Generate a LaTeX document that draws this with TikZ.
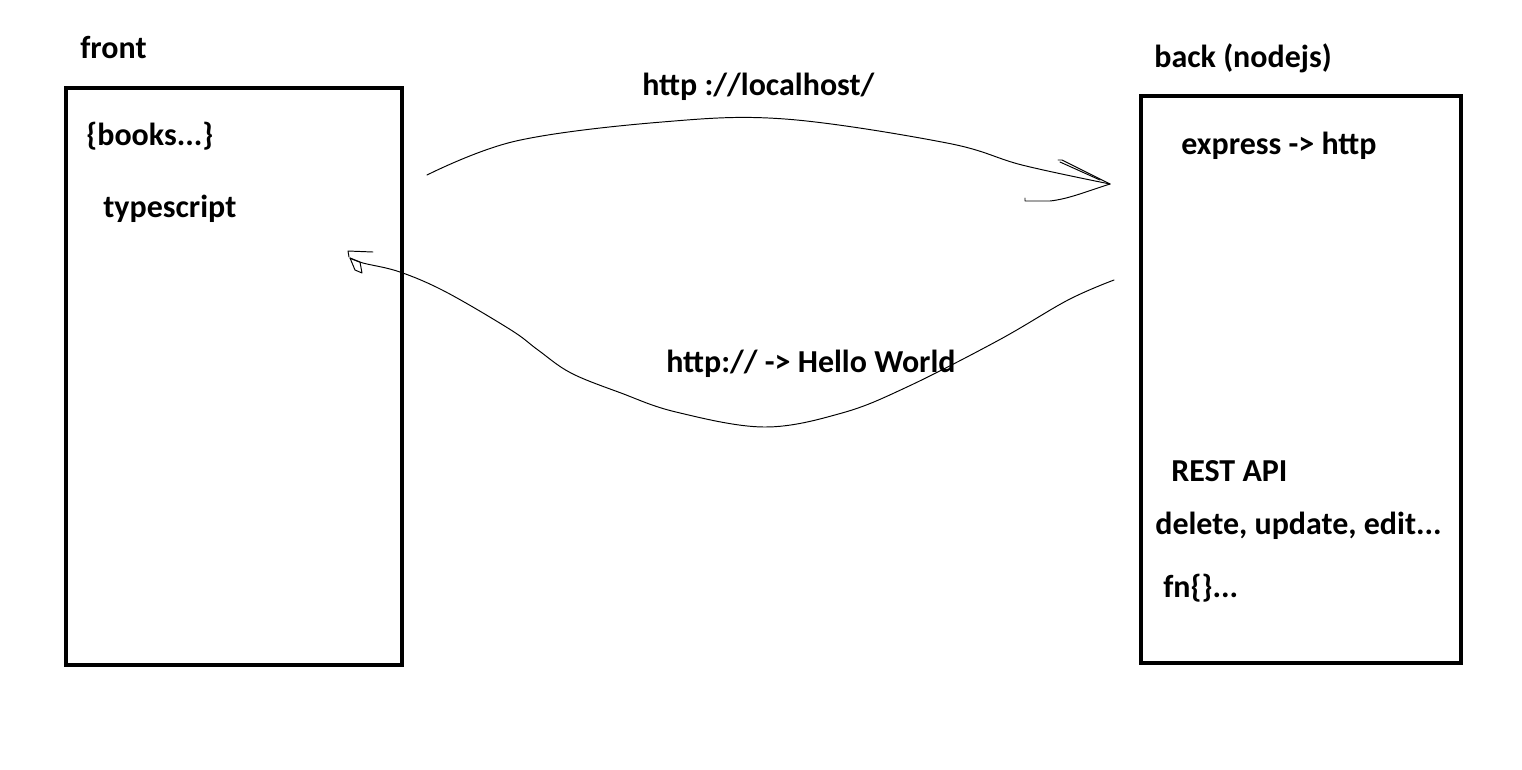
\documentclass[tikz,border=0pt]{standalone}
\usepackage{fontspec}
\setmainfont{Carlito}
\begin{document}
\begin{tikzpicture}[x=0.02cm,y=-0.02cm,
  lbl/.style={anchor=base west,inner sep=0pt,font=\fontsize{18.2}{20}\selectfont\bfseries},
  pen/.style={line width=0.55pt,line join=round,line cap=round}]
\useasboundingbox[fill=white] (0,0) rectangle (1522,769);
% boxes
\draw[line width=2.4pt] (66,88) rectangle (402,665);
\draw[line width=2.4pt] (1141,96) rectangle (1461,663);
% labels
\node[lbl] (front) at (80,58) {front};
\node[lbl] (back) at (1154,67) {back (nodejs)};
\node[lbl] (loc) at (642,95) {http ://localhost/};
\node[lbl] (books) at (86,145) {\{books...\}};
\node[lbl] (ts) at (103,217) {typescript};
\node[lbl] (exp) at (1181,154) {express -> http};
\node[lbl] (hw) at (666,372) {http:// -> Hello World};
\node[lbl] (rest) at (1171,481) {REST API};
\node[lbl] (del) at (1155,534) {delete, update, edit...};
\node[lbl] (fn) at (1163,597) {fn\{\}...};
% top hand-drawn arrow
\coordinate (t0) at (427,175);
\coordinate (t1) at (1110,184);
\draw[pen] plot[smooth,tension=0.6] coordinates {(t0) (516,141) (662,122) (785,119) (947,143) (1022,165) (t1)};
\draw[pen] (1058,160) -- (1062,160) -- (1110,184);
\draw[pen] (1060,162) -- (1100,180);
\draw[pen] (1025,198) -- (1025,201) -- (1050,201) .. controls (1068,199) and (1085,192) .. (t1);
% bottom hand-drawn arrow
\coordinate (b0) at (1114,280);
\coordinate (b1) at (350,258);
\draw[pen] plot[smooth,tension=0.6] coordinates {(b0) (1068,300) (999,340) (907,387) (842,413) (764,427) (676,412) (621,393) (571,373) (538,350) (511,330) (446,292) (400,272) (363,263) (b1)};
\draw[pen] (373,252) -- (348,251) -- (349,257);
\draw[pen] (350,258) -- (355,270) -- (362,273) -- (360,262) -- cycle;
\end{tikzpicture}
\end{document}
